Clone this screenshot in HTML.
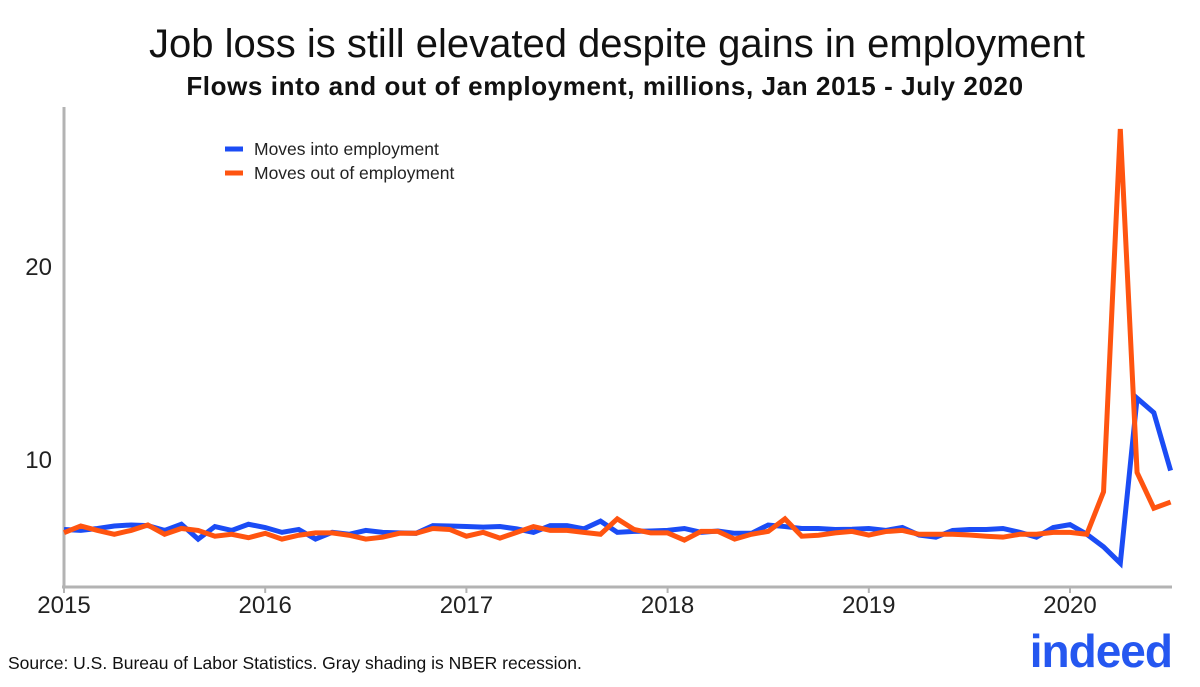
<!DOCTYPE html>
<html><head><meta charset="utf-8"><style>
body{margin:0;background:#fff;font-family:"Liberation Sans",sans-serif;}
</style></head><body>
<svg width="1200" height="682" xmlns="http://www.w3.org/2000/svg">
<text x="617" y="57" text-anchor="middle" font-size="40" fill="#111">Job loss is still elevated despite gains in employment</text>
<text x="605" y="95" text-anchor="middle" font-size="26" letter-spacing="0.6" font-weight="bold" fill="#111">Flows into and out of employment, millions, Jan 2015 - July 2020</text>
<g id="axes"></g>
<g id="series"></g>
<g>
<line x1="225" y1="149" x2="243" y2="149" stroke="#1b4cf5" stroke-width="5"/>
<text x="254" y="155" font-size="17.5" fill="#222">Moves into employment</text>
<line x1="225" y1="173" x2="243" y2="173" stroke="#ff5410" stroke-width="5"/>
<text x="254" y="179" font-size="17.5" fill="#222">Moves out of employment</text>
</g>
<text x="8" y="669" font-size="17.5" fill="#111">Source: U.S. Bureau of Labor Statistics. Gray shading is NBER recession.</text>
<text x="1172" y="667" text-anchor="end" font-size="46" font-weight="bold" fill="#2557f0" letter-spacing="-1">indeed</text>
</svg>
<script>
const years = ["2015","2016","2017","2018","2019","2020"];
const yTicks = [10, 20];
const movesInto = [6.35,6.3,6.4,6.53,6.58,6.55,6.3,6.62,5.85,6.5,6.3,6.62,
6.45,6.2,6.35,5.85,6.2,6.1,6.3,6.2,6.17,6.15,6.55,6.53,
6.5,6.47,6.5,6.38,6.2,6.55,6.55,6.38,6.78,6.2,6.25,6.27,
6.3,6.4,6.2,6.27,6.15,6.15,6.58,6.5,6.4,6.4,6.35,6.36,
6.4,6.3,6.45,6.06,5.95,6.3,6.35,6.35,6.4,6.2,5.95,6.45,
6.6,6.1,5.45,4.6,13.15,12.4,9.4];
const movesOut = [6.18,6.53,6.3,6.1,6.3,6.58,6.1,6.4,6.3,6.0,6.1,5.92,
6.15,5.85,6.05,6.17,6.17,6.05,5.85,5.95,6.15,6.15,6.4,6.35,
6.0,6.2,5.9,6.2,6.5,6.3,6.3,6.2,6.1,6.9,6.35,6.17,
6.17,5.8,6.25,6.25,5.85,6.1,6.25,6.9,6.0,6.05,6.17,6.25,
6.06,6.24,6.3,6.1,6.1,6.1,6.06,6.0,5.95,6.1,6.1,6.2,
6.2,6.1,8.3,27.1,9.3,7.45,7.77];
const NS="http://www.w3.org/2000/svg";
const x = i => 64 + i * 201.2 / 12;
const y = v => 459 - (v - 10) * 19.3;
const axes = document.getElementById('axes');
function mk(tag, attrs, parent){const e=document.createElementNS(NS,tag);for(const k in attrs)e.setAttribute(k,attrs[k]);parent.appendChild(e);return e;}
const ya = mk('line',{x1:64,y1:107,x2:64,y2:588,stroke:'#b3b3b3','stroke-width':3},axes);


const xa = mk('line',{x1:62,y1:587,x2:1172,y2:587,stroke:'#b3b3b3','stroke-width':3},axes);


yTicks.forEach(v=>{
  const t = mk('text',{x:52,y:y(v)+9,'text-anchor':'end','font-size':24,fill:'#222'},axes);
  t.textContent = v;
  
  
});
years.forEach((yr,k)=>{
  const tk = mk('line',{x1:x(k*12),y1:587,x2:x(k*12),y2:593,stroke:'#b3b3b3','stroke-width':2},axes);
  
  
  const t = mk('text',{x:x(k*12),y:613,'text-anchor':'middle','font-size':24,fill:'#222'},axes);
  t.textContent = yr;
  
  
});
const ser = document.getElementById('series');
function line(data,color,name){
  const p = mk('polyline',{points:data.map((v,i)=>x(i)+','+y(v)).join(' '),fill:'none',stroke:color,'stroke-width':5,'stroke-linejoin':'miter','stroke-miterlimit':10},ser);
  
  
}
line(movesInto,'#1b4cf5','line-moves-into');
line(movesOut,'#ff5410','line-moves-out');
</script>
</body></html>
